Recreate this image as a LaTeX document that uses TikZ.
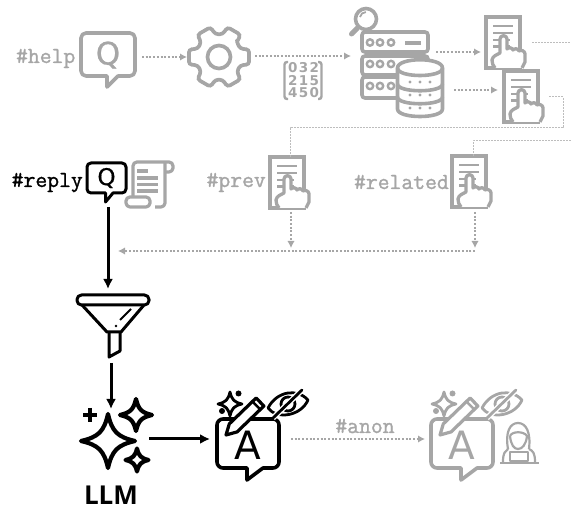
\documentclass[tikz,border=0pt]{standalone}
\usepackage{fontspec}
\usetikzlibrary{arrows.meta}
\newfontfamily\iconfont{DejaVu Sans}
\newfontfamily\qfont[FakeBold=0.8]{DejaVu Sans}
\newfontfamily\llmfont{Open Sans}
\newfontfamily\matfont[LetterSpace=10]{DejaVu Sans}
\newfontfamily\codefont[FakeBold=1.2]{Latin Modern Mono}
\definecolor{ghost}{HTML}{A6A6A6}
\definecolor{thinline}{HTML}{BDBDBD}
\tikzset{
  ghosted/.style={color=ghost},
  inked/.style={color=black},
  tag/.style={font=\codefont\fontsize{23}{23}\selectfont,inner sep=0pt},
  flowdot/.style={color=ghost,line width=2pt,dash pattern=on 2pt off 1.7pt,-{Latex[length=7pt,width=7.5pt]}},
  thindot/.style={color=thinline,line width=1pt,dash pattern=on 1.6pt off 1.4pt},
  flowblack/.style={color=black,line width=3pt,-{Latex[length=10pt,width=10pt]}},
  pics/spark/.style={code={
    \draw (0,-#1) .. controls ({.15*#1},{-.35*#1}) and ({.35*#1},{-.15*#1}) .. (#1,0)
       .. controls ({.35*#1},{.15*#1}) and ({.15*#1},{.35*#1}) .. (0,#1)
       .. controls ({-.15*#1},{.35*#1}) and ({-.35*#1},{.15*#1}) .. (-#1,0)
       .. controls ({-.35*#1},{-.15*#1}) and ({-.15*#1},{-.35*#1}) .. cycle;
  }},
  pics/dochand/.style={code={
    \begin{scope}[line width=3.6pt,line join=miter]
      \draw (0,0) rectangle (34,51);
      \draw[line width=2.5pt] (7,9) -- (27,9) (7,16) -- (27,16) (7,23) -- (24,23) (7,29.5) -- (24,29.5);
      \draw[fill=white,line width=3.3pt,line join=round]
        (9,51) to[out=120,in=260] (6,43) to[out=80,in=210] (14,36) -- (14,22)
        to[out=90,in=90,looseness=1.6] (21,22) -- (21,32)
        to[bend left=70] (27,33) to[bend left=70] (33,34) to[bend left=70] (39,37)
        -- (39,45) -- (36,51);
    \end{scope}
  }},
  pics/answer/.style={code={
    \begin{scope}[line width=3.6pt,line join=round,line cap=round]
      \draw (30,61) -- (30,49) [rounded corners=6pt] -- (0,49) -- (0,0) -- (62,0) -- (62,49) [sharp corners] -- (46,49) -- cycle;
      \node[font=\iconfont\fontsize{39}{39}\selectfont,inner sep=0pt] at (31,26) {A};
      \draw[fill=white,line width=3.2pt] (9,16) -- (12.3,4.9) -- (39.1,-21) -- (46.9,-13) -- (20.1,12.9) -- cycle;
      \draw[line width=2.5pt] (35.5,-17.5) -- (43.3,-9.5);
      \pic[line width=2.8pt] at (13,-15) {spark=12};
      \fill (21.5,-25.5) circle (3pt) (5,-8) circle (3pt);
      \draw[line width=2.8pt] (51,-11) .. controls (60,-28) and (80,-31) .. (91,-19) .. controls (84,-3) and (60,1) .. (51,-11);
      \draw[line width=2.8pt] (71,-15) circle (7pt);
      \draw[white,line width=5.5pt,line cap=butt] (56,-1) -- (85,-29);
      \draw[line width=2.8pt] (56,-1) -- (85,-29);
    \end{scope}
  }},
}
\begin{document}
\begin{tikzpicture}[x=1pt,y=-1pt]
\useasboundingbox (0,0) rectangle (571,510);

% ---- #help bubble
\begin{scope}[ghosted,line width=3.6pt,line join=round]
  \draw (107,87) -- (107,76) [rounded corners=5pt] -- (81,76) -- (81,33) -- (135,33) -- (135,76) [sharp corners] -- (118,76) -- cycle;
  \node (helpq) [font=\qfont\fontsize{31}{31}\selectfont,inner sep=0pt] at (108,55) {Q};
\end{scope}
\node (help) [tag,ghosted,anchor=base east] at (75.5,63) {\#help};

% ---- gear
\begin{scope}[ghosted,shift={(219,57)},line width=3.7pt]
  \draw[rounded corners=3pt] (-39:23) \foreach \a in {0,60,...,300}{ -- (\a-21:23) -- (\a-14:31) -- (\a+14:31) -- (\a+21:23)} -- cycle;
  \draw (0,0) circle (11.5pt);
\end{scope}

% ---- matrix
\begin{scope}[ghosted,line width=2.4pt,rounded corners=2.5pt]
  \draw (288,62) -- (284.5,62) -- (284.5,99) -- (288,99);
  \draw (318,62) -- (321.5,62) -- (321.5,99) -- (318,99);
\end{scope}
\foreach \r/\t/\y in {a/032/68,b/215/80.5,c/450/93}
  \node (mat\r) [ghosted,inner sep=0pt,font=\matfont\bfseries\fontsize{13.5}{13.5}\selectfont] at (303.5,\y) {\t};

% ---- server, lens, database
\begin{scope}[ghosted,line width=3.6pt]
  \draw (366,19) circle (10.5pt);
  \draw[line width=1.8pt] (360,17) arc[start angle=170,end angle=90,radius=6pt];
  \draw[line width=5pt,line cap=round] (357.5,28) -- (351.5,34);
  \draw[rounded corners=3pt] (362,32) rectangle (428,52);
  \draw[rounded corners=3pt] (362,56) rectangle (428,75);
  \draw[rounded corners=3pt] (362,77) rectangle (428,98);
  \foreach \y in {42.5,64,86} \foreach \x in {370,380,391}
    \draw[line width=2.4pt] (\x,\y) circle (3.2pt);
  \draw[line width=3.8pt] (405,43) -- (421,43);
  \draw[fill=white,line join=round] (397.5,68) -- (397.5,109) .. controls (397.5,119) and (442.5,119) .. (442.5,109) -- (442.5,68) .. controls (442.5,57) and (397.5,57) .. (397.5,68) -- cycle;
  \draw (397.5,68) .. controls (397.5,78) and (442.5,78) .. (442.5,68);
  \draw (397.5,84) .. controls (397.5,93) and (442.5,93) .. (442.5,84);
  \draw (397.5,97) .. controls (397.5,106) and (442.5,106) .. (442.5,97);
  \foreach \y in {82,95,108} \foreach \x in {410,420,430}
    \fill (\x,\y) circle (1.6pt);
\end{scope}

% ---- documents
\pic[ghosted] at (486,17) {dochand};
\pic[ghosted] at (504,71) {dochand};
\pic[ghosted] at (270,157) {dochand};
\pic[ghosted] at (452,156) {dochand};
\node (prev) [tag,ghosted,anchor=base east] at (266,187) {\#prev};
\node (related) [tag,ghosted,anchor=base east] at (449,189) {\#related};

% ---- #reply bubble and scroll
\begin{scope}[black,line width=3pt,line join=round]
  \draw (105.5,202) -- (105.5,193) [rounded corners=4pt] -- (87,193) -- (87,163) -- (126,163) -- (126,193) [sharp corners] -- (113,193) -- cycle;
  \node (replyq) [font=\qfont\fontsize{23}{23}\selectfont,inner sep=0pt] at (106.5,178) {Q};
\end{scope}
\node (reply) [tag,black,anchor=base east] at (83,187) {\#reply};
\begin{scope}[ghosted,line width=3.2pt,line join=round]
  \draw[rounded corners=4pt] (133,197) -- (133,162) -- (173,162) -- (173,172) -- (165,172);
  \draw[rounded corners=4pt] (165,163) -- (165,207) -- (155,207);
  \draw[rounded corners=4pt] (126,197) -- (150,197) -- (150,207) -- (126,207) -- cycle;
  \draw (137,171) -- (148,171) (137,178) -- (158,178) (137,184.5) -- (158,184.5) (137,191) -- (158,191);
\end{scope}

% ---- funnel
\begin{scope}[black,line width=3pt,line join=round]
  \draw[rounded corners=4.5pt] (77,295) rectangle (149,305);
  \draw (82,305) -- (107,332) -- (121,332) -- (144,305);
  \draw (109,332) -- (109,357) -- (120,351) -- (120,332);
  \draw[line width=2pt] (120,320) -- (131,309);
  \fill (116,326) circle (1.3pt);
\end{scope}

% ---- sparkles and LLM
\begin{scope}[black,line width=4.2pt,line join=round]
  \pic at (108,441) {spark=27};
  \pic at (136,415) {spark=16};
  \pic at (137,460) {spark=11.5};
  \draw (83,415) -- (97,415) (90,408) -- (90,422);
\end{scope}
\node (llm) [inner sep=0pt,anchor=base,font=\llmfont\bfseries\fontsize{26}{26}\selectfont] at (111,505) {LLM};

% ---- answers
\pic[inked] at (217,419) {answer};
\pic[ghosted] at (431,419) {answer};
\node (anon) [tag,ghosted,anchor=base] at (365,433) {\#anon};

% ---- hacker
\begin{scope}[ghosted,line width=2.2pt,line join=round]
  \draw (508,449) .. controls (505,432) and (510,423) .. (518,423) .. controls (526,423) and (531,432) .. (529,449);
  \draw (510,436) .. controls (512,431) and (524,431) .. (527,436) .. controls (526,445) and (522,449) .. (518,449) .. controls (514,449) and (511,445) .. (510,436);
  \draw (508,449) .. controls (505,451) and (503,453) .. (503,462);
  \draw (529,449) .. controls (533,451) and (535,453) .. (535,462);
  \draw (510,452) rectangle (528,461);
  \draw[line width=2.6pt] (500,463) -- (539,463);
\end{scope}

% ---- connector end points
\coordinate (helpR) at (142,57);
\coordinate (gearL) at (187,57);
\coordinate (gearR) at (255,56);
\coordinate (srvL) at (351,56);
\coordinate (srvR1) at (436,52);
\coordinate (doc1L) at (481,52);
\coordinate (srvR2) at (454,90);
\coordinate (doc2L) at (498,90);
\coordinate (doc1R) at (532,43);
\coordinate (edge1) at (571,43);
\coordinate (doc2R) at (549,97);
\coordinate (turn1) at (563,97);
\coordinate (turn2) at (563,128);
\coordinate (turn3) at (290,128);
\coordinate (prevT) at (290,157);
\coordinate (relT) at (473,156);
\coordinate (turn4) at (473,141);
\coordinate (edge2) at (571,141);
\coordinate (prevB) at (291,212);
\coordinate (prevJ) at (291,248);
\coordinate (relB) at (475,212);
\coordinate (relJ) at (475,248);
\coordinate (relH) at (475,251);
\coordinate (mergeL) at (118,251);
\coordinate (replyB) at (108,207);
\coordinate (funT) at (108,289);
\coordinate (funB) at (111,363);
\coordinate (llmT) at (111,409);
\coordinate (llmR) at (149,439);
\coordinate (ansL) at (210,439);
\coordinate (ansR) at (291,439);
\coordinate (ans2L) at (425,439);

\draw[flowdot] (helpR) -- (gearL);
\draw[flowdot] (gearR) -- (srvL);
\draw[flowdot] (srvR1) -- (doc1L);
\draw[flowdot] (srvR2) -- (doc2L);
\draw[thindot] (doc1R) -- (edge1);
\draw[thindot] (doc2R) -- (turn1) -- (turn2) -- (turn3) -- (prevT);
\draw[thindot] (relT) -- (turn4) -- (edge2);
\draw[flowdot] (prevB) -- (prevJ);
\draw[flowdot] (relB) -- (relJ);
\draw[flowdot] (relH) -- (mergeL);
\draw[flowblack] (replyB) -- (funT);
\draw[flowblack] (funB) -- (llmT);
\draw[flowblack] (llmR) -- (ansL);
\draw[flowdot] (ansR) -- (ans2L);
\end{tikzpicture}
\end{document}
